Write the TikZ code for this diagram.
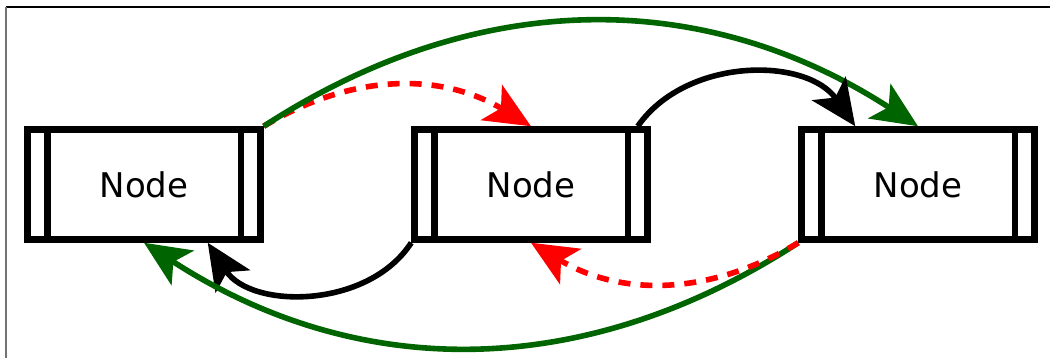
\documentclass[tikz,border=0pt]{standalone}
\usepackage{fontspec}
\setmainfont{DejaVu Sans}
\usetikzlibrary{arrows.meta}
\definecolor{edgegreen}{RGB}{0,100,0}
\definecolor{edgered}{RGB}{255,0,0}
\tikzset{
  procbox/.style={draw, line width=6.5pt, minimum width=233pt, minimum height=110pt,
    inner sep=0pt, font=\fontsize{34}{40}\selectfont},
  conn/.style={line width=5.6pt, -{Stealth[length=46pt,width=41pt,inset=11pt]}, bend left=#1},
  conn/.default=33,
  dashconn/.style={conn, dash pattern=on 12pt off 10pt},
}
\begin{document}
\begin{tikzpicture}[x=1pt,y=1pt]
  \useasboundingbox (0,0) rectangle (1050,358);
  % partial frame along the top and left edges
  \coordinate (ftl) at (6,351);
  \coordinate (ftr) at (1050,351);
  \coordinate (fbl) at (6,0);
  \draw[line width=1.5pt] (ftl) -- (ftr);
  \draw[line width=1.6pt, black!55] (ftl) -- (fbl);

  % three process boxes
  \node[procbox] (a) at (144,173.5) {Node};
  \node[procbox] (b) at (531,173.5) {Node};
  \node[procbox] (c) at (918,173.5) {Node};
  \foreach \n in {a,b,c}{
    \draw[line width=6.5pt] ([xshift=23pt]\n.north west) -- ([xshift=23pt]\n.south west);
    \draw[line width=6.5pt] ([xshift=-23pt]\n.north east) -- ([xshift=-23pt]\n.south east);
  }

  % connectors above the boxes
  \draw[dashconn, edgered] (a.north east) to[bend left=31] (b.north);
  \draw[conn, edgegreen] (a.north east) to (c.north);
  \draw[conn=55, black] ([xshift=-13pt]b.north east) to ([xshift=57pt]c.north west);

  % connectors below the boxes
  \draw[conn=57, black] (b.south west) to ([xshift=-56pt]a.south east);
  \draw[conn, edgegreen] (c.south west) to (a.south);
  \draw[dashconn, edgered] (c.south west) to[bend left=31] (b.south);
\end{tikzpicture}
\end{document}
